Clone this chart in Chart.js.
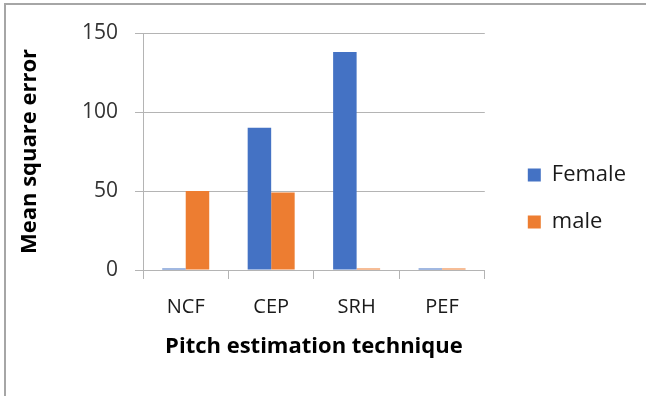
<!DOCTYPE html>
<html lang="en">
<head>
    <meta charset="UTF-8">
    <title>Mean square error by pitch estimation technique</title>
    <script src="https://cdn.jsdelivr.net/npm/chart.js"></script>
    <style>
        html, body { margin: 0; padding: 0; background: #fff; }
        #wrap { position: relative; width: 646px; height: 396px; }
        #frame {
            position: absolute; left: 4px; top: 3px; right: 0; bottom: -4px;
            border-top: 2px solid #a6a6a6; border-left: 2px solid #a6a6a6;
            pointer-events: none;
        }
    </style>
</head>
<body>
<div id="wrap">
    <canvas id="mseChart" width="646" height="396"></canvas>
    <div id="frame"></div>
</div>
<script>
    const techniques = ['NCF', 'CEP', 'SRH', 'PEF'];
    const femaleMse = [1, 90, 138, 1];
    const maleMse = [50, 49, 1, 1];
    const yTicks = [0, 50, 100, 150];

    const gridGray = '#b4b4b4';
    const textFont = "'Open Sans', 'Liberation Sans', sans-serif";

    const ctx = document.getElementById('mseChart').getContext('2d');
    new Chart(ctx, {
        type: 'bar',
        data: {
            labels: techniques,
            datasets: [
                { label: 'Female', data: femaleMse, backgroundColor: '#4472c4' },
                { label: 'male', data: maleMse, backgroundColor: '#ed7d31' }
            ]
        },
        options: {
            responsive: false,
            animation: false,
            devicePixelRatio: 1,
            categoryPercentage: 0.55,
            barPercentage: 1,
            layout: { padding: { top: 33, bottom: 32, left: 0, right: 10 } },
            plugins: {
                tooltip: { enabled: false },
                legend: {
                    position: 'right',
                    maxWidth: 200,   // let the legend keep its natural width
                    labels: {
                        boxWidth: 13,
                        boxHeight: 13,
                        padding: 25,
                        color: '#1a1a1a',
                        font: { family: textFont, size: 22 }
                    }
                }
            },
            scales: {
                x: {
                    grid: {
                        offset: true,
                        drawOnChartArea: false,
                        drawTicks: true,
                        tickLength: 9,
                        color: gridGray
                    },
                    border: { display: true, color: gridGray, width: 1 },
                    ticks: {
                        padding: 16,
                        color: '#1a1a1a',
                        font: { family: textFont, size: 20 }
                    },
                    title: {
                        display: true,
                        text: 'Pitch estimation technique',
                        color: '#000',
                        padding: { top: 0, bottom: 4 },
                        font: { family: textFont, size: 22, weight: 'bold' }
                    },
                    afterFit: s => { s.height = 94; }
                },
                y: {
                    min: yTicks[0],
                    max: yTicks[yTicks.length - 1],
                    afterBuildTicks: s => { s.ticks = yTicks.map(v => ({ value: v })); },
                    grid: { color: gridGray, tickLength: 8, drawTicks: true },
                    border: { display: true, color: gridGray, width: 1 },
                    ticks: {
                        padding: 17,
                        color: '#333333',
                        font: { family: textFont, size: 21 }
                    },
                    title: {
                        display: true,
                        text: 'Mean square error',
                        color: '#000',
                        padding: { top: 17, bottom: 0 },
                        font: { family: textFont, size: 22, weight: 'bold' }
                    },
                    afterFit: s => { s.width = 143; }
                },
                // empty spacer between the plot and the legend
                gap: {
                    position: 'right',
                    display: true,
                    grid: { display: false },
                    border: { display: false },
                    ticks: { display: false },
                    afterFit: s => { s.width = 18; }
                }
            }
        }
    });
</script>
</body>
</html>
